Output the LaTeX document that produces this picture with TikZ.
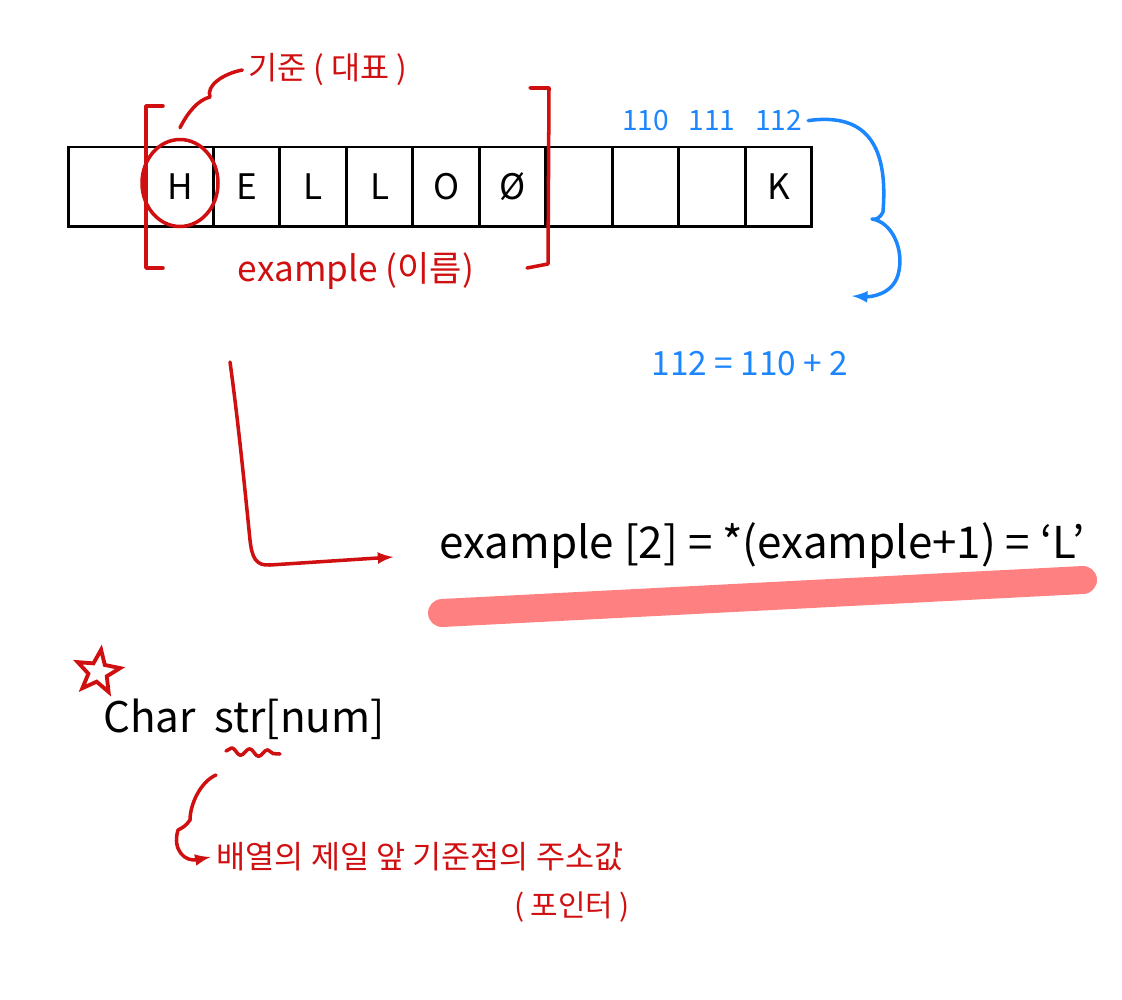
\documentclass[tikz,border=0pt]{standalone}
\usepackage{fontspec}
\setmainfont{Noto Sans CJK KR}
\usepackage{xcolor}
\usepackage{tikz}
\usetikzlibrary{shapes.geometric, arrows, positioning, calc, decorations.pathmorphing}

\definecolor{redink}{RGB}{208,16,16}
\definecolor{blueink}{RGB}{28,134,255}
\definecolor{marker}{RGB}{255,128,128}

\begin{document}
\begin{tikzpicture}[x=0.02cm, y=-0.02cm, >=latex,
    cell/.style={rectangle, draw, line width=1.7pt, minimum width=1.33cm, minimum height=1.6cm, inner sep=0pt, outer sep=0pt, font=\fontsize{20}{24}\selectfont},
    redpen/.style={draw=redink, line width=2pt, line cap=round, line join=round},
    bluepen/.style={draw=blueink, line width=2pt, line cap=round, line join=round},
    addr/.style={text=blueink, font=\fontsize{16}{19}\selectfont},
    note/.style={text=redink, font=\fontsize{17}{20}\selectfont}]
    \useasboundingbox (0,0) rectangle (1122,1000);

    % the array
    \node (c0) [cell, minimum width=1.58cm] at (107.5,187) {};
    \node (c1) [cell, right=0pt of c0] {H};
    \node (c2) [cell, right=0pt of c1] {E};
    \node (c3) [cell, right=0pt of c2] {L};
    \node (c4) [cell, right=0pt of c3] {L};
    \node (c5) [cell, right=0pt of c4] {O};
    \node (c6) [cell, right=0pt of c5] {Ø};
    \node (c7) [cell, right=0pt of c6] {};
    \node (c8) [cell, right=0pt of c7] {};
    \node (c9) [cell, right=0pt of c8] {};
    \node (c10) [cell, right=0pt of c9] {K};

    % brackets round the string
    \draw[redpen] (163,106) -- (146,106) -- (146,268) -- (163,268);
    \draw[redpen] (530,88) -- (549,88) -- (548,264) -- (527,268);

    \node (hcirc) [ellipse, redpen, minimum width=1.52cm, minimum height=1.74cm] at (180,183) {};
    \node (kijun) [note, font=\fontsize{18}{22}\selectfont] at (328,70) {기준 ( 대표 )};
    \node (name) [note, font=\fontsize{20}{24}\selectfont] at (356,271) {example (이름)};
    \draw[redpen] ([yshift=0.2cm]hcirc.north) .. controls (188,112) and (198,100) .. (210,97)
        .. controls (206,86) and (222,74) .. (kijun.west);

    % addresses
    \node (a110) [addr, above=0.2cm of c8] {110};
    \node (a111) [addr, above=0.2cm of c9] {111};
    \node (a112) [addr, above=0.2cm of c10] {112};
    \node (sum) [addr, font=\fontsize{19}{22}\selectfont] at (750,364) {112 = 110 + 2};
    \coordinate (bend) at (852,296);
    \draw[bluepen, ->] (a112.east) .. controls (870,112) and (888,150) .. (883,212)
        .. controls (880,218) and (876,220) .. (872,219)
        .. controls (892,222) and (905,250) .. (898,275)
        .. controls (892,295) and (870,297) .. (bend);

    % access by index
    \node (expr) at (762,546) {\fontsize{25}{30}\selectfont example [2] = *(example+1) = `L'};
    \draw[marker, line width=0.56cm, line cap=round] (442,613) -- (1083,580);
    \coordinate (down) at (230,362);
    \draw[redpen, ->] (down) .. controls (238,420) and (244,480) .. (250,540)
        .. controls (252,558) and (256,566) .. (270,565)
        -- ([xshift=-0.8cm, yshift=-0.22cm]expr.west);

    % declaration
    \node (star) [star, star points=5, star point ratio=2.3, draw=redink, line width=2.2pt, minimum size=0.9cm, rotate=-8] at (98,672) {};
    \node (decl) at (244,719) {\fontsize{24}{28}\selectfont Char \ str[num]};
    \draw[redpen, decorate, decoration={snake, segment length=0.36cm, amplitude=0.07cm}] (226,751) -- (280,754);
    \node (desc) [note, font=\fontsize{18}{22}\selectfont] at (420,857) {배열의 제일 앞 기준점의 주소값};
    \node (ptr) [note, font=\fontsize{17}{20}\selectfont] at (572,907) {( 포인터 )};
    \coordinate (wave) at (216,775);
    \draw[redpen, ->] (wave) .. controls (200,782) and (190,805) .. (190,820)
        .. controls (186,826) and (182,828) .. (178,830)
        .. controls (172,850) and (185,862) .. (desc.west);
\end{tikzpicture}
\end{document}
